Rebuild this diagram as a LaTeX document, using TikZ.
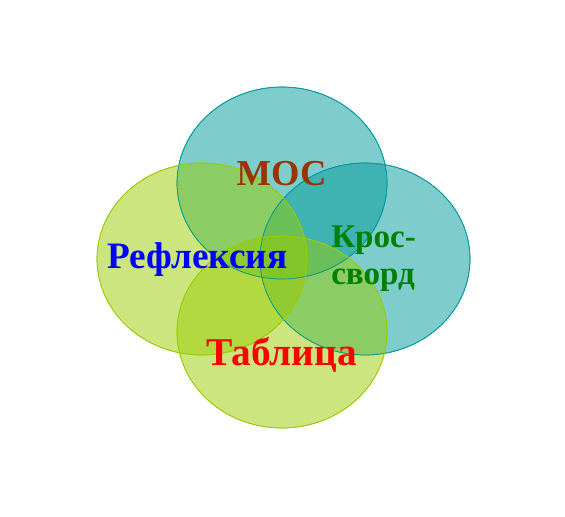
\documentclass[tikz,border=0pt]{standalone}
\usepackage{fontspec}
\setmainfont{Liberation Serif}
\usepackage{tikz}
\usetikzlibrary{positioning}
\definecolor{mosteal}{HTML}{009999}
\definecolor{moslime}{HTML}{99CC00}
\definecolor{mosbrown}{HTML}{993300}
\definecolor{mosgreen}{HTML}{008000}
\tikzset{
  tealdisc/.style={draw=mosteal, fill=mosteal, fill opacity=0.5, draw opacity=1, line width=0.5pt},
  limedisc/.style={draw=moslime, fill=moslime, fill opacity=0.5, draw opacity=1, line width=0.5pt},
  wordlabel/.style={font=\bfseries, inner sep=0pt}
}

\begin{document}
\begin{tikzpicture}
        % Fix the canvas to the reference size
        \useasboundingbox (0,0) rectangle (14.125,-12.9);
        
        % Four overlapping discs
        \fill[tealdisc] (7.05,-4.575) ellipse (2.625 and 2.4);
        \fill[tealdisc] (9.125,-6.475) ellipse (2.625 and 2.4);
        \fill[limedisc] (5.05,-6.475) ellipse (2.625 and 2.4);
        \fill[limedisc] (7.05,-8.3) ellipse (2.625 and 2.4);
        \draw[tealdisc, fill=none] (7.05,-4.575) ellipse (2.625 and 2.4);
        \draw[tealdisc, fill=none] (9.125,-6.475) ellipse (2.625 and 2.4);
        \draw[limedisc, fill=none] (5.05,-6.475) ellipse (2.625 and 2.4);
        \draw[limedisc, fill=none] (7.05,-8.3) ellipse (2.625 and 2.4);
        
        % Labels in the discs
        \node[wordlabel, text=mosbrown, font=\fontsize{26}{30}\selectfont\bfseries, anchor=base] (mos) at (7.04,-4.625) {МОС};
        \node[wordlabel, text=blue, font=\fontsize{26.5}{30}\selectfont\bfseries, anchor=base west] (reflection) at (2.675,-6.7) {Рефлексия};
        \node[wordlabel, text=mosgreen, font=\fontsize{23.5}{26.5}\selectfont\bfseries, align=left, anchor=west] (crossword) at (8.275,-6.475) {Крос-\\сворд};
        \node[wordlabel, text=red, font=\fontsize{28}{32}\selectfont\bfseries, anchor=base] (table) at (7.04,-9.125) {Таблица};
    \end{tikzpicture}
\end{document}
